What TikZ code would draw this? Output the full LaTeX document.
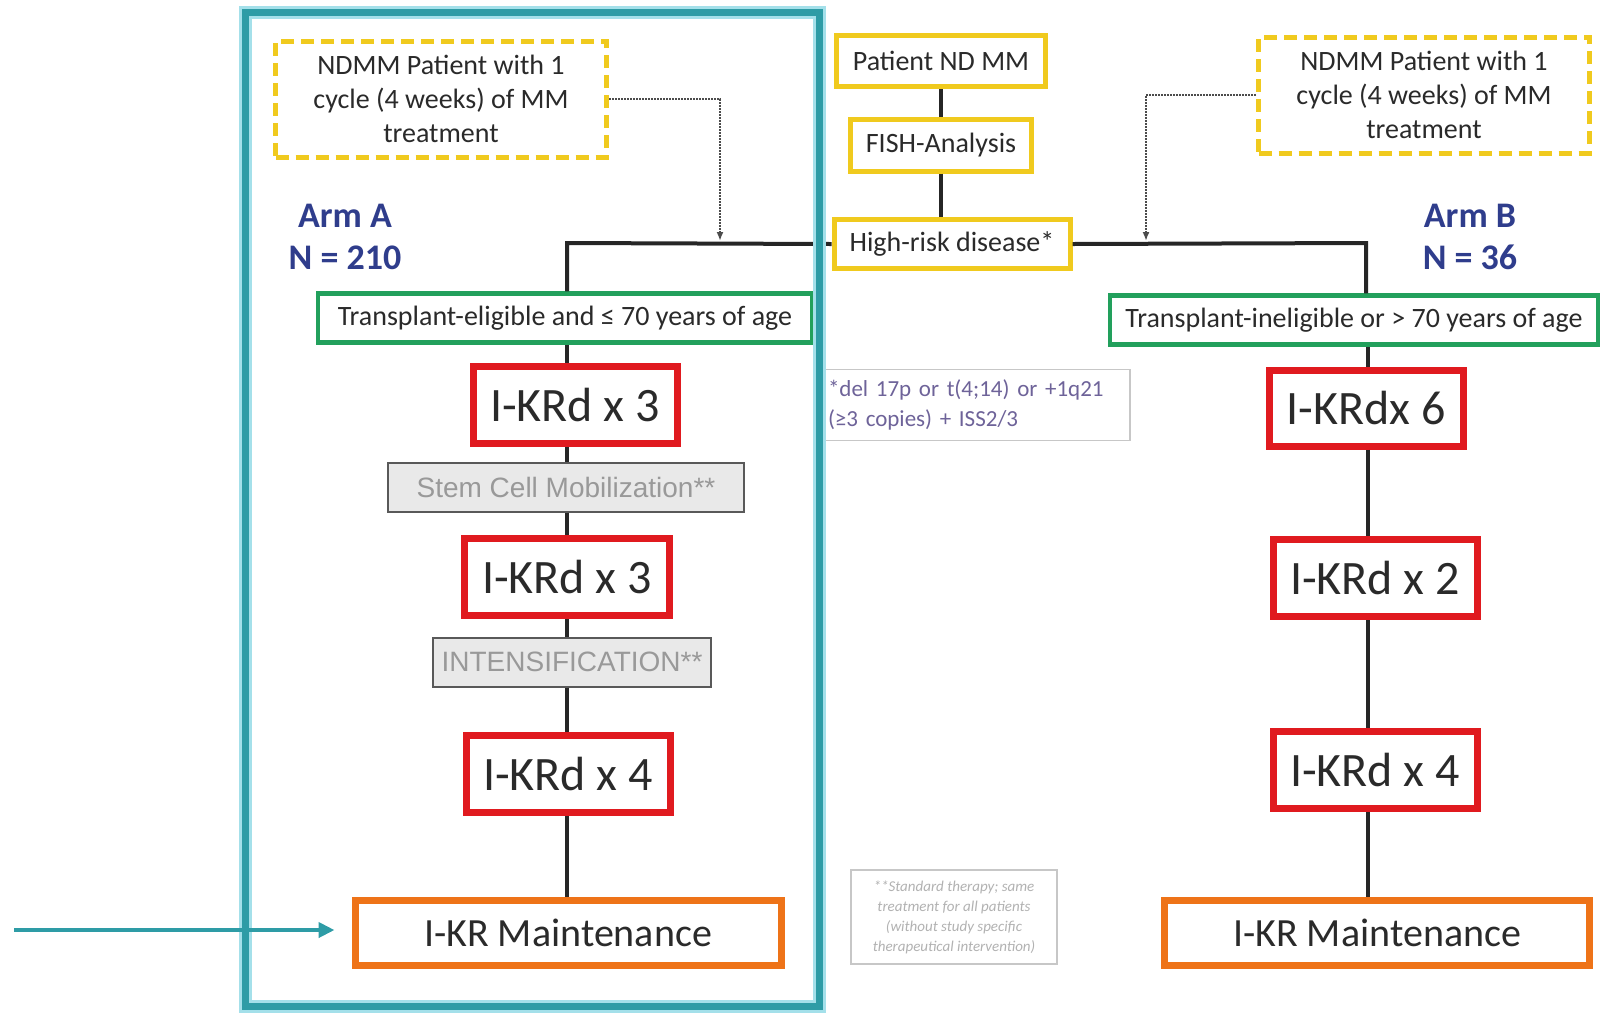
\documentclass[tikz,border=0pt]{standalone}
\usepackage{fontspec}
\setmainfont{Carlito}
\newfontfamily\arialfont{Liberation Sans}
\usepackage{xcolor}
\usepackage{tikz}
\usetikzlibrary{arrows.meta}

\definecolor{txtgray}{HTML}{2A2A2A}
\definecolor{boxyellow}{HTML}{F0CA1E}
\definecolor{boxgreen}{HTML}{22A05C}
\definecolor{boxred}{HTML}{E01A1F}
\definecolor{boxorange}{HTML}{EE7318}
\definecolor{boxgray}{HTML}{E9E9E9}
\definecolor{armblue}{HTML}{2F3D8C}
\definecolor{notepurple}{HTML}{6E6399}
\definecolor{frameteal}{HTML}{2E9CA6}
\definecolor{framecyan}{HTML}{A4E0EA}

\begin{document}
\begin{tikzpicture}[
        x=1pt, y=-1pt,
        box/.style={rectangle, inner sep=0pt, align=center, fill=white, text=txtgray},
        yellowbox/.style={box, draw=boxyellow, line width=5pt, font=\fontsize{28}{34}\selectfont},
        dashbox/.style={yellowbox, dash pattern=on 13pt off 7pt, minimum width=331pt, minimum height=116pt},
        greenbox/.style={box, draw=boxgreen, line width=4.5pt, minimum height=49pt, font=\fontsize{28}{32}\selectfont},
        redbox/.style={box, draw=boxred, line width=7pt, minimum width=204pt, minimum height=77pt, font=\fontsize{48}{52}\selectfont},
        graybox/.style={box, draw=black!65, fill=boxgray, line width=2pt, minimum height=49pt, text=black!40, font=\arialfont\fontsize{28}{30}\selectfont},
        orangebox/.style={box, draw=boxorange, line width=7pt, minimum width=426pt, minimum height=65pt, font=\fontsize{40}{44}\selectfont},
        notebox/.style={box, draw=black!22, line width=1.5pt},
        armlabel/.style={align=center, text=armblue, font=\bfseries\fontsize{36}{42}\selectfont},
        conn/.style={line width=4pt, black!85},
        dotarrow/.style={densely dotted, line width=2pt, black!70, -{Latex[length=9pt, width=7pt]}},
    ]
        \useasboundingbox (0,0) rectangle (1601,1013);

        % Screening
        \node[yellowbox, minimum width=209pt, minimum height=51pt] (pat) at (941,61) {Patient ND MM};
        \node[yellowbox, minimum width=181pt, minimum height=52pt] (fish) at (941,145) {FISH-Analysis};
        \node[yellowbox, minimum width=236pt, minimum height=49pt] (hr) at (952,244) {High-risk disease*};

        % Pre-treated patients
        \node[dashbox] (preA) at (441,99) {NDMM Patient with 1\\cycle (4 weeks) of MM\\treatment};
        \node[dashbox] (preB) at (1424,95) {NDMM Patient with 1\\cycle (4 weeks) of MM\\treatment};

        % Arm labels
        \node[armlabel] (armA) at (345,237) {Arm A\\N = 210};
        \node[armlabel] (armB) at (1470,237) {Arm B\\N = 36};

        % Arm A
        \node[greenbox, minimum width=494pt] (eligA) at (565,318) {Transplant-eligible and ≤ 70 years of age};
        \node[redbox] (kA1) at (575,405) {I-KRd x 3};
        \node[graybox, minimum width=356pt] (stemA) at (566,487) {Stem Cell Mobilization**};
        \node[redbox, minimum width=205pt] (kA2) at (567,577) {I-KRd x 3};
        \node[graybox, minimum width=278pt] (intA) at (572,662) {INTENSIFICATION**};
        \node[redbox] (kA3) at (568,774) {I-KRd x 4};
        \node[orangebox] (maintA) at (568,933) {I-KR Maintenance};

        % Arm B
        \node[greenbox, minimum width=488pt] (eligB) at (1354,320) {Transplant-ineligible or > 70 years of age};
        \node[redbox, minimum width=194pt, minimum height=76pt] (kB1) at (1366,408) {I-KRdx 6};
        \node[redbox] (kB2) at (1375,578) {I-KRd x 2};
        \node[redbox] (kB3) at (1375,770) {I-KRd x 4};
        \node[orangebox, minimum width=425pt] (maintB) at (1377,933) {I-KR Maintenance};

        % Notes
        \node[notebox, minimum height=71pt, text width=296pt, inner xsep=6pt, align=left, text=notepurple,
              font=\fontsize{23}{30}\selectfont] (note1) at (976,405) {*del 17p or t(4;14) or +1q21\\(≥3 copies) + ISS2/3};
        \node[notebox, minimum width=206pt, minimum height=94pt, text=black!30,
              font=\itshape\fontsize{15}{20}\selectfont] (note2) at (954,917) {**Standard therapy; same\\treatment for all patients\\(without study specific\\therapeutical intervention)};

        % Branch points
        \coordinate (splitA) at (567,243);
        \coordinate (splitB) at (1366,243);
        \coordinate (colA) at (567,0);
        \coordinate (colB) at (1368,0);
        \coordinate (joinA) at (720,241);
        \coordinate (joinB) at (1146,241);

        % Connectors
        \draw[conn] (pat) -- (fish);
        \draw[conn] (fish.south) -- (fish.south |- hr.north);
        \draw[conn] (hr.west) -- (splitA) -- (splitA |- eligA.north);
        \draw[conn] (hr.east) -- (splitB) -- (splitB |- eligB.north);
        \draw[dotarrow] (preA.east) -| (joinA);
        \draw[dotarrow] (preB.west) -| (joinB);

        \draw[conn] (colA |- eligA.south) -- (colA |- kA1.north);
        \draw[conn] (colA |- kA1.south) -- (colA |- stemA.north);
        \draw[conn] (colA |- stemA.south) -- (colA |- kA2.north);
        \draw[conn] (colA |- kA2.south) -- (colA |- intA.north);
        \draw[conn] (colA |- intA.south) -- (colA |- kA3.north);
        \draw[conn] (colA |- kA3.south) -- (colA |- maintA.north);

        \draw[conn] (colB |- eligB.south) -- (colB |- kB1.north);
        \draw[conn] (colB |- kB1.south) -- (colB |- kB2.north);
        \draw[conn] (colB |- kB2.south) -- (colB |- kB3.north);
        \draw[conn] (colB |- kB3.south) -- (colB |- maintB.north);

        % Highlight frame
        \draw[line width=13pt, framecyan] (245,12) rectangle (819,1006);
        \draw[line width=7pt, frameteal] (245,12) rectangle (819,1006);
        \coordinate (pointer) at (14,930);
        \draw[line width=4pt, frameteal, -{Triangle[length=16pt, width=15pt]}, shorten >=17pt] (pointer) -- (pointer -| maintA.west);

    \end{tikzpicture}
\end{document}
